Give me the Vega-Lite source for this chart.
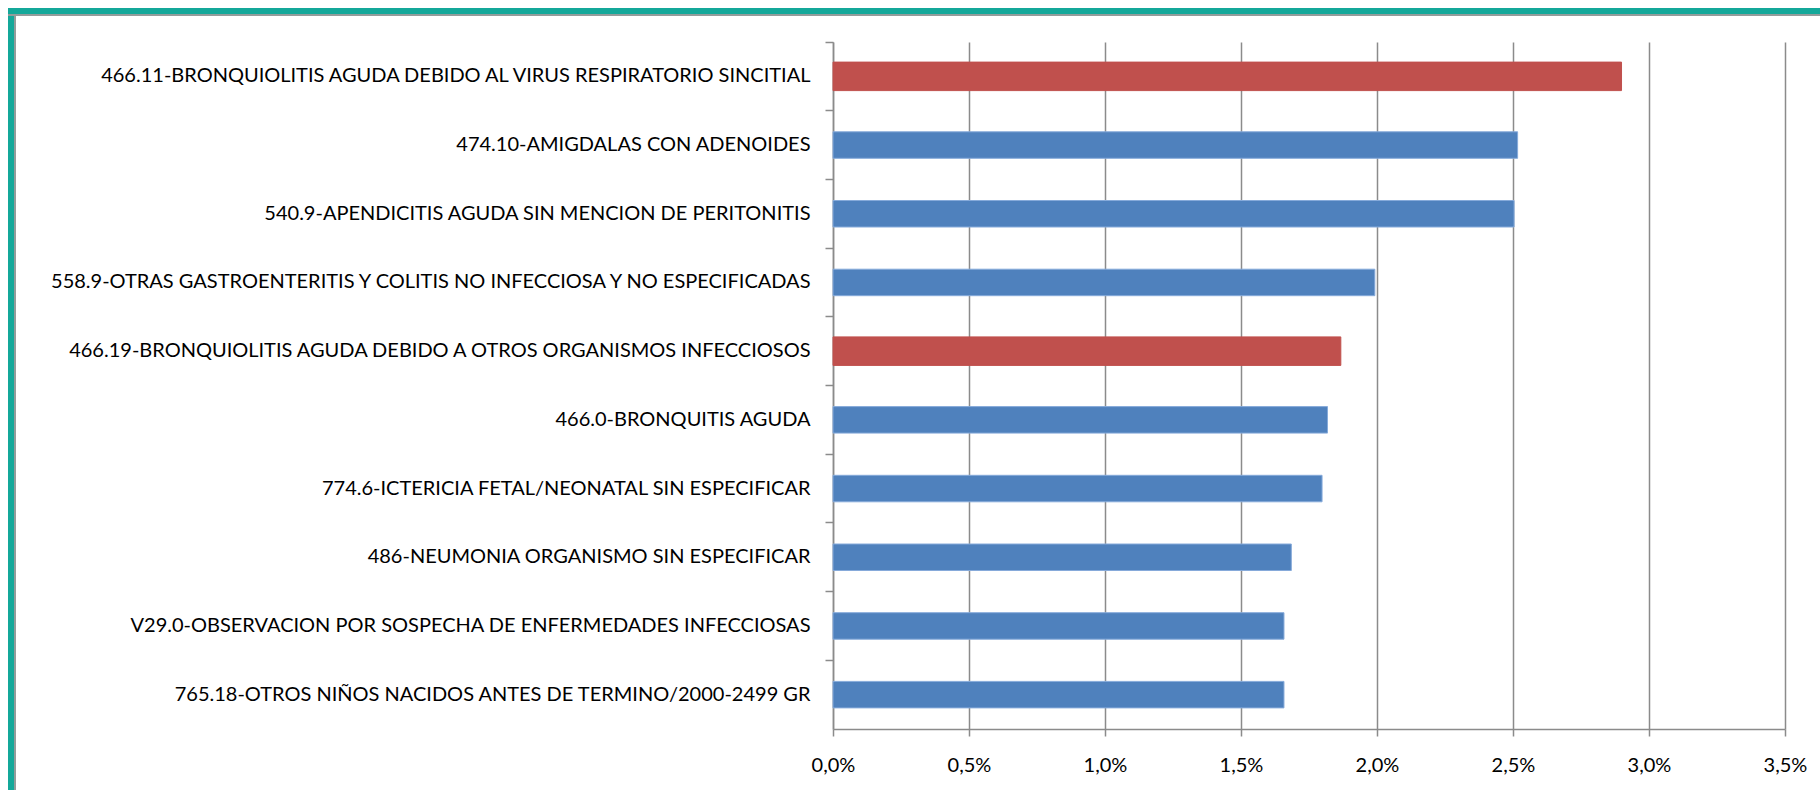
{
  "$schema": "https://vega.github.io/schema/vega-lite/v6.json",
  "background": "#ffffff",
  "padding": {"left": 8, "top": 8, "right": 0, "bottom": 0},
  "config": {"view": {"stroke": null}, "font": "Lato"},
  "spacing": 0,
  "vconcat": [
    {"width": 1812, "height": 6, "view": {"fill": "#14A89A", "stroke": null}, "data": {"values": []}, "mark": "point", "encoding": {}},
    {"width": 1812, "height": 2, "view": {"fill": "#939C9B", "stroke": null}, "data": {"values": []}, "mark": "point", "encoding": {}},
    {
      "spacing": 30,
      "hconcat": [
        {
          "spacing": 0,
          "hconcat": [
            {"width": 6, "height": 774, "view": {"fill": "#14A89A", "stroke": null}, "data": {"values": []}, "mark": "point", "encoding": {}},
            {"width": 2, "height": 774, "view": {"fill": "#939C9B", "stroke": null}, "data": {"values": []}, "mark": "point", "encoding": {}}
          ]
        },
        {
          "spacing": 0,
          "vconcat": [
            {"width": 1, "height": 25, "data": {"values": []}, "mark": "point", "encoding": {}},
            {
              "width": 952,
              "height": 687,
              "data": {
                "values": [
                  {"diagnostico": "466.11-BRONQUIOLITIS AGUDA DEBIDO AL VIRUS RESPIRATORIO SINCITIAL", "porcentaje": 0.02899, "grupo": "Bronquiolitis"},
                  {"diagnostico": "474.10-AMIGDALAS CON ADENOIDES", "porcentaje": 0.02517, "grupo": "Otros"},
                  {"diagnostico": "540.9-APENDICITIS AGUDA SIN MENCION DE PERITONITIS", "porcentaje": 0.02504, "grupo": "Otros"},
                  {"diagnostico": "558.9-OTRAS GASTROENTERITIS Y COLITIS NO INFECCIOSA Y NO ESPECIFICADAS", "porcentaje": 0.01992, "grupo": "Otros"},
                  {"diagnostico": "466.19-BRONQUIOLITIS AGUDA DEBIDO A OTROS ORGANISMOS INFECCIOSOS", "porcentaje": 0.01867, "grupo": "Bronquiolitis"},
                  {"diagnostico": "466.0-BRONQUITIS AGUDA", "porcentaje": 0.01818, "grupo": "Otros"},
                  {"diagnostico": "774.6-ICTERICIA FETAL/NEONATAL SIN ESPECIFICAR", "porcentaje": 0.01798, "grupo": "Otros"},
                  {"diagnostico": "486-NEUMONIA ORGANISMO SIN ESPECIFICAR", "porcentaje": 0.01685, "grupo": "Otros"},
                  {"diagnostico": "V29.0-OBSERVACION POR SOSPECHA DE ENFERMEDADES INFECCIOSAS", "porcentaje": 0.01658, "grupo": "Otros"},
                  {"diagnostico": "765.18-OTROS NIÑOS NACIDOS ANTES DE TERMINO/2000-2499 GR", "porcentaje": 0.01658, "grupo": "Otros"}
                ]
              },
              "mark": {"type": "bar", "strokeWidth": 1},
              "encoding": {
                "y": {
                  "field": "diagnostico",
                  "type": "nominal",
                  "sort": null,
                  "scale": {"paddingInner": 0, "paddingOuter": 0},
                  "axis": {
                    "title": null,
                    "bandPosition": 0,
                    "grid": false,
                    "domainColor": "#8B8B8B",
                    "domainWidth": 1.5,
                    "tickColor": "#8B8B8B",
                    "tickSize": 8,
                    "tickWidth": 1.5,
                    "labelFont": "Lato",
                    "labelFontSize": 20,
                    "labelColor": "#000000",
                    "labelPadding": 15,
                    "labelLimit": 0
                  }
                },
                "x": {
                  "field": "porcentaje",
                  "type": "quantitative",
                  "scale": {"domain": [0, 0.035], "nice": false},
                  "axis": {
                    "title": null,
                    "values": [0, 0.005, 0.01, 0.015, 0.02, 0.025, 0.03, 0.035],
                    "labelExpr": "replace(format(datum.value, '.1%'), '.', ',')",
                    "grid": true,
                    "gridColor": "#8B8B8B",
                    "gridWidth": 1.5,
                    "domainColor": "#8B8B8B",
                    "domainWidth": 1.5,
                    "tickColor": "#8B8B8B",
                    "tickSize": 7,
                    "tickWidth": 1.5,
                    "labelFont": "Lato",
                    "labelFontSize": 20,
                    "labelPadding": 19,
                    "labelColor": "#000000",
                    "labelFlush": false
                  }
                },
                "color": {
                  "field": "grupo",
                  "type": "nominal",
                  "scale": {"domain": ["Bronquiolitis", "Otros"], "range": ["#C0504D", "#4F81BD"]},
                  "legend": null
                },
                "stroke": {
                  "field": "grupo",
                  "type": "nominal",
                  "scale": {"domain": ["Bronquiolitis", "Otros"], "range": ["#C0504D", "#86AADA"]},
                  "legend": null
                },
                "size": {
                  "field": "grupo",
                  "type": "nominal",
                  "scale": {"type": "ordinal", "domain": ["Bronquiolitis", "Otros"], "range": [28.5, 26.5]},
                  "legend": null
                }
              }
            }
          ]
        }
      ]
    }
  ]
}
